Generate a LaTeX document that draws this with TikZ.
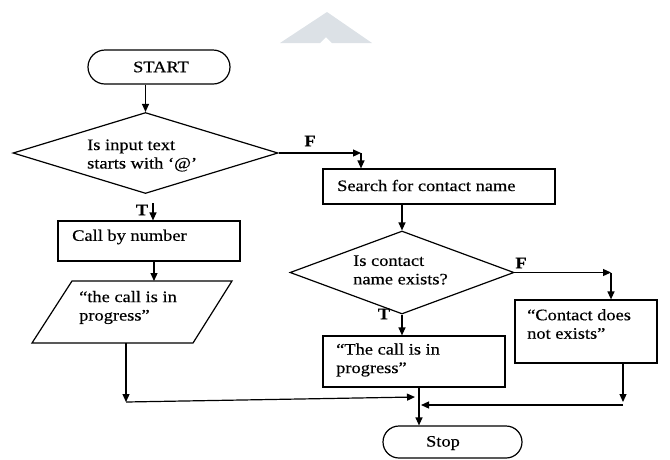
\documentclass[tikz,border=0pt]{standalone}
\usepackage{fontspec}
\setmainfont{Liberation Serif}[FakeStretch=1.15,FakeBold=0.4]
\usetikzlibrary{shapes.geometric,arrows.meta}
\definecolor{wm}{RGB}{220,225,230}
\begin{document}
\begin{tikzpicture}[x=1pt,y=-1pt,
  every node/.style={font=\fontsize{16}{18.5}\selectfont},
  box/.style={draw,line width=1.2pt,rectangle,inner sep=0pt},
  term/.style={draw,line width=1.2pt,rectangle,inner sep=0pt},
  dec/.style={draw,line width=1.2pt,diamond,inner sep=0pt},
  txt/.style={anchor=west,align=left,inner sep=0pt},
  lbl/.style={font=\fontsize{16}{18}\selectfont\bfseries,inner sep=0pt},
  arr/.style={line width=1.2pt,-{Triangle[length=8pt,width=7pt]}},
  ln/.style={line width=1.2pt,line join=miter}]
\useasboundingbox (0,0) rectangle (670,459);

% faint logo mark at the top
\fill[wm] (280,43) -- (327,12) -- (372,43) -- (332,43) -- (326,37) -- (320,43) -- cycle;

% terminals
\node[term,minimum width=142pt,minimum height=34pt,rounded corners=17pt] (start) at (159,67) {};
\node (starttxt) at (161,67) {START};
\node[term,minimum width=139pt,minimum height=32pt,rounded corners=16pt] (stop) at (452.5,442) {};
\node (stoptxt) at (443,443) {Stop};

% first decision
\node[dec,minimum width=265pt,minimum height=81pt] (d1) at (145.5,153) {};
\node[txt] (d1txt) at (87,155.5) {Is input text\\starts with ‘@’};

% left branch
\node[box,minimum width=182pt,minimum height=40pt] (call) at (149,241) {};
\node[txt] (calltxt) at (72,237) {Call by number};
\coordinate (ptl) at (72,281);
\coordinate (ptr) at (232,281);
\coordinate (pbr) at (193,343);
\coordinate (pbl) at (32,343);
\draw[ln] (ptl) -- (ptr) -- (pbr) -- (pbl) -- cycle;
\node[txt] (paratxt) at (79,307.5) {“the call is in\\progress”};

% right branch
\node[box,minimum width=232pt,minimum height=35pt] (search) at (439,186.5) {};
\node[txt] (searchtxt) at (337,185.5) {Search for contact name};
\node[dec,minimum width=224pt,minimum height=83pt] (d2) at (402,272.5) {};
\node[txt] (d2txt) at (353,270) {Is contact\\name exists?};
\node[box,minimum width=182pt,minimum height=51pt] (prog) at (414,361.5) {};
\node[txt] (progtxt) at (336,360) {“The call is in\\progress”};
\node[box,minimum width=142pt,minimum height=63pt] (notex) at (586,331.5) {};
\node[txt] (notextxt) at (527,324) {“Contact does\\not exists”};

% branch labels
\node[lbl] (f1) at (310,141) {F};
\node[lbl] (t1) at (142,210) {T};
\node[lbl] (f2) at (521,263) {F};
\node[lbl] (t2) at (384,314) {T};

% connectors
\draw[arr] (start.south -| d1.north) -- (d1.north);
\coordinate (fc1) at (361,153);
\draw[arr] (d1.east) -- (fc1);
\draw[arr] (fc1) -- (fc1 |- search.north);
\coordinate (tc1) at (153,203);
\draw[arr] (tc1) -- (tc1 |- call.north);
\coordinate (pin) at (154,281);
\draw[arr] (call.south -| pin) -- (pin);
\coordinate (pout) at (126,343);
\coordinate (m1) at (126,402);
\coordinate (m2) at (415,397);
\draw[arr] (pout) -- (m1);
\draw[arr] (m1) -- (m2);
\draw[arr] (search.south -| d2.north) -- (d2.north);
\coordinate (fc2) at (611,272.5);
\draw[arr] (d2.east) -- (fc2);
\draw[arr] (fc2) -- (fc2 |- notex.north);
\draw[arr] (d2.south) -- (d2.south |- prog.north);
\coordinate (mx) at (419,0);
\draw[arr] (prog.south -| mx) -- (stop.north -| mx);
\coordinate (nx) at (623,0);
\coordinate (n2) at (623,402);
\coordinate (n3) at (623,405);
\coordinate (n4) at (421,405);
\draw[arr] (notex.south -| nx) -- (n2);
\draw[arr] (n3) -- (n4);
\end{tikzpicture}
\end{document}
